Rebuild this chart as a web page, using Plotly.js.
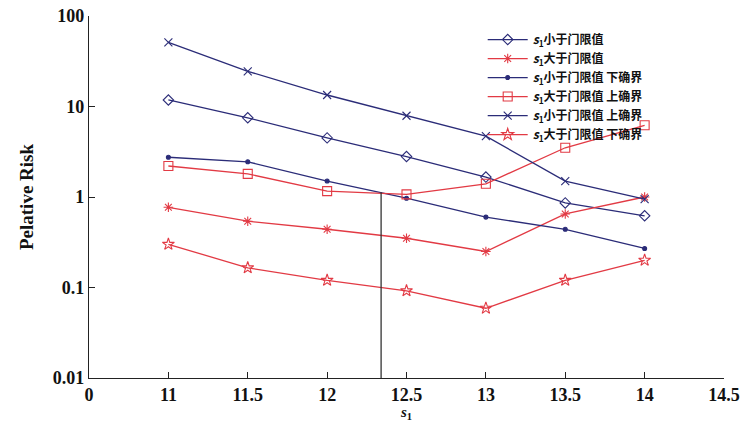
<!DOCTYPE html>
<html><head><meta charset="utf-8">
<script src="https://cdn.plot.ly/plotly-3.0.1.min.js"></script>
<style>html,body{margin:0;padding:0;background:#fff}#chart{width:744px;height:422px}</style>
</head><body><div id="chart"></div>
<script>
const xVals = [11, 11.5, 12, 12.5, 13, 13.5, 14];
const tickVals = [10.5, 11, 11.5, 12, 12.5, 13, 13.5, 14, 14.5];
const tickText = ["0", "11", "11.5", "12", "12.5", "13", "13.5", "14", "14.5"];
const belowValue = [11.8, 7.5, 4.5, 2.8, 1.66, 0.86, 0.62];
const aboveValue = [0.77, 0.54, 0.44, 0.35, 0.25, 0.65, 1.0];
const belowLower = [2.75, 2.45, 1.5, 0.97, 0.6, 0.44, 0.27];
const aboveUpper = [2.2, 1.8, 1.16, 1.07, 1.4, 3.5, 6.2];
const belowUpper = [51, 24.5, 13.4, 7.9, 4.7, 1.5, 0.95];
const aboveLower = [0.3, 0.165, 0.12, 0.092, 0.059, 0.12, 0.2];
const thresholdX = [12.34, 12.34];
const thresholdY = [1.13, 0.01];

const navy = '#2b2c78';
const red = '#e23a44';
function tr(name, y, color, symbol, size) {
  return {x: xVals, y: y, name: name, type: 'scatter', mode: 'lines+markers',
    line: {color: color, width: 1.3},
    marker: {symbol: symbol, size: size, color: color, line: {color: color, width: 1.1}}};
}
const S = '<i>s</i><sub>1</sub>';
const data = [
  tr(S + '小于门限值', belowValue, navy, 'diamond-open', 8),
  tr(S + '大于门限值', aboveValue, red, 'asterisk-open', 8),
  tr(S + '小于门限值 下确界', belowLower, navy, 'circle', 4),
  tr(S + '大于门限值 上确界', aboveUpper, red, 'square-open', 9),
  tr(S + '小于门限值 上确界', belowUpper, navy, 'x-thin-open', 8),
  tr(S + '大于门限值 下确界', aboveLower, red, 'star-open', 9),
  {x: thresholdX, y: thresholdY, type: 'scatter', mode: 'lines', showlegend: false,
   line: {color: '#333', width: 1.3}, hoverinfo: 'skip'}
];
const tickFont = {family: 'Liberation Serif', size: 18, color: '#111', weight: 'bold'};
const layout = {
  width: 744, height: 422,
  margin: {l: 89, r: 20, t: 16, b: 44},
  paper_bgcolor: '#fff', plot_bgcolor: '#fff',
  showlegend: true,
  legend: {x: 0.62, y: 0.975, xanchor: 'left', yanchor: 'top', bgcolor: 'rgba(0,0,0,0)',
    font: {family: 'Noto Sans CJK SC', size: 12, color: '#111', weight: 'bold'},
    itemwidth: 40, tracegroupgap: 0},
  xaxis: {range: [10.5, 14.5], tickmode: 'array', tickvals: tickVals, ticktext: tickText,
    showgrid: false, zeroline: false, showline: true, linecolor: '#222', linewidth: 1.2,
    ticks: 'inside', ticklen: 6, tickcolor: '#222', tickfont: tickFont,
    title: {text: '<i>s</i><sub>1</sub>', standoff: 5, font: {family: 'Liberation Serif', size: 15, color: '#111', weight: 'bold'}}},
  yaxis: {type: 'log', range: [-2, 2], tickmode: 'array',
    tickvals: [0.01, 0.1, 1, 10, 100], ticktext: ['0.01', '0.1', '1', '10', '100'],
    showgrid: false, zeroline: false, showline: true, linecolor: '#222', linewidth: 1.2,
    ticks: 'inside', ticklen: 6, tickcolor: '#222', tickfont: tickFont,
    title: {text: 'Pelative Risk', standoff: 14, font: {family: 'Liberation Serif', size: 19, color: '#111', weight: 'bold'}}}
};
Plotly.newPlot('chart', data, layout, {displayModeBar: false, staticPlot: true});
</script></body></html>
